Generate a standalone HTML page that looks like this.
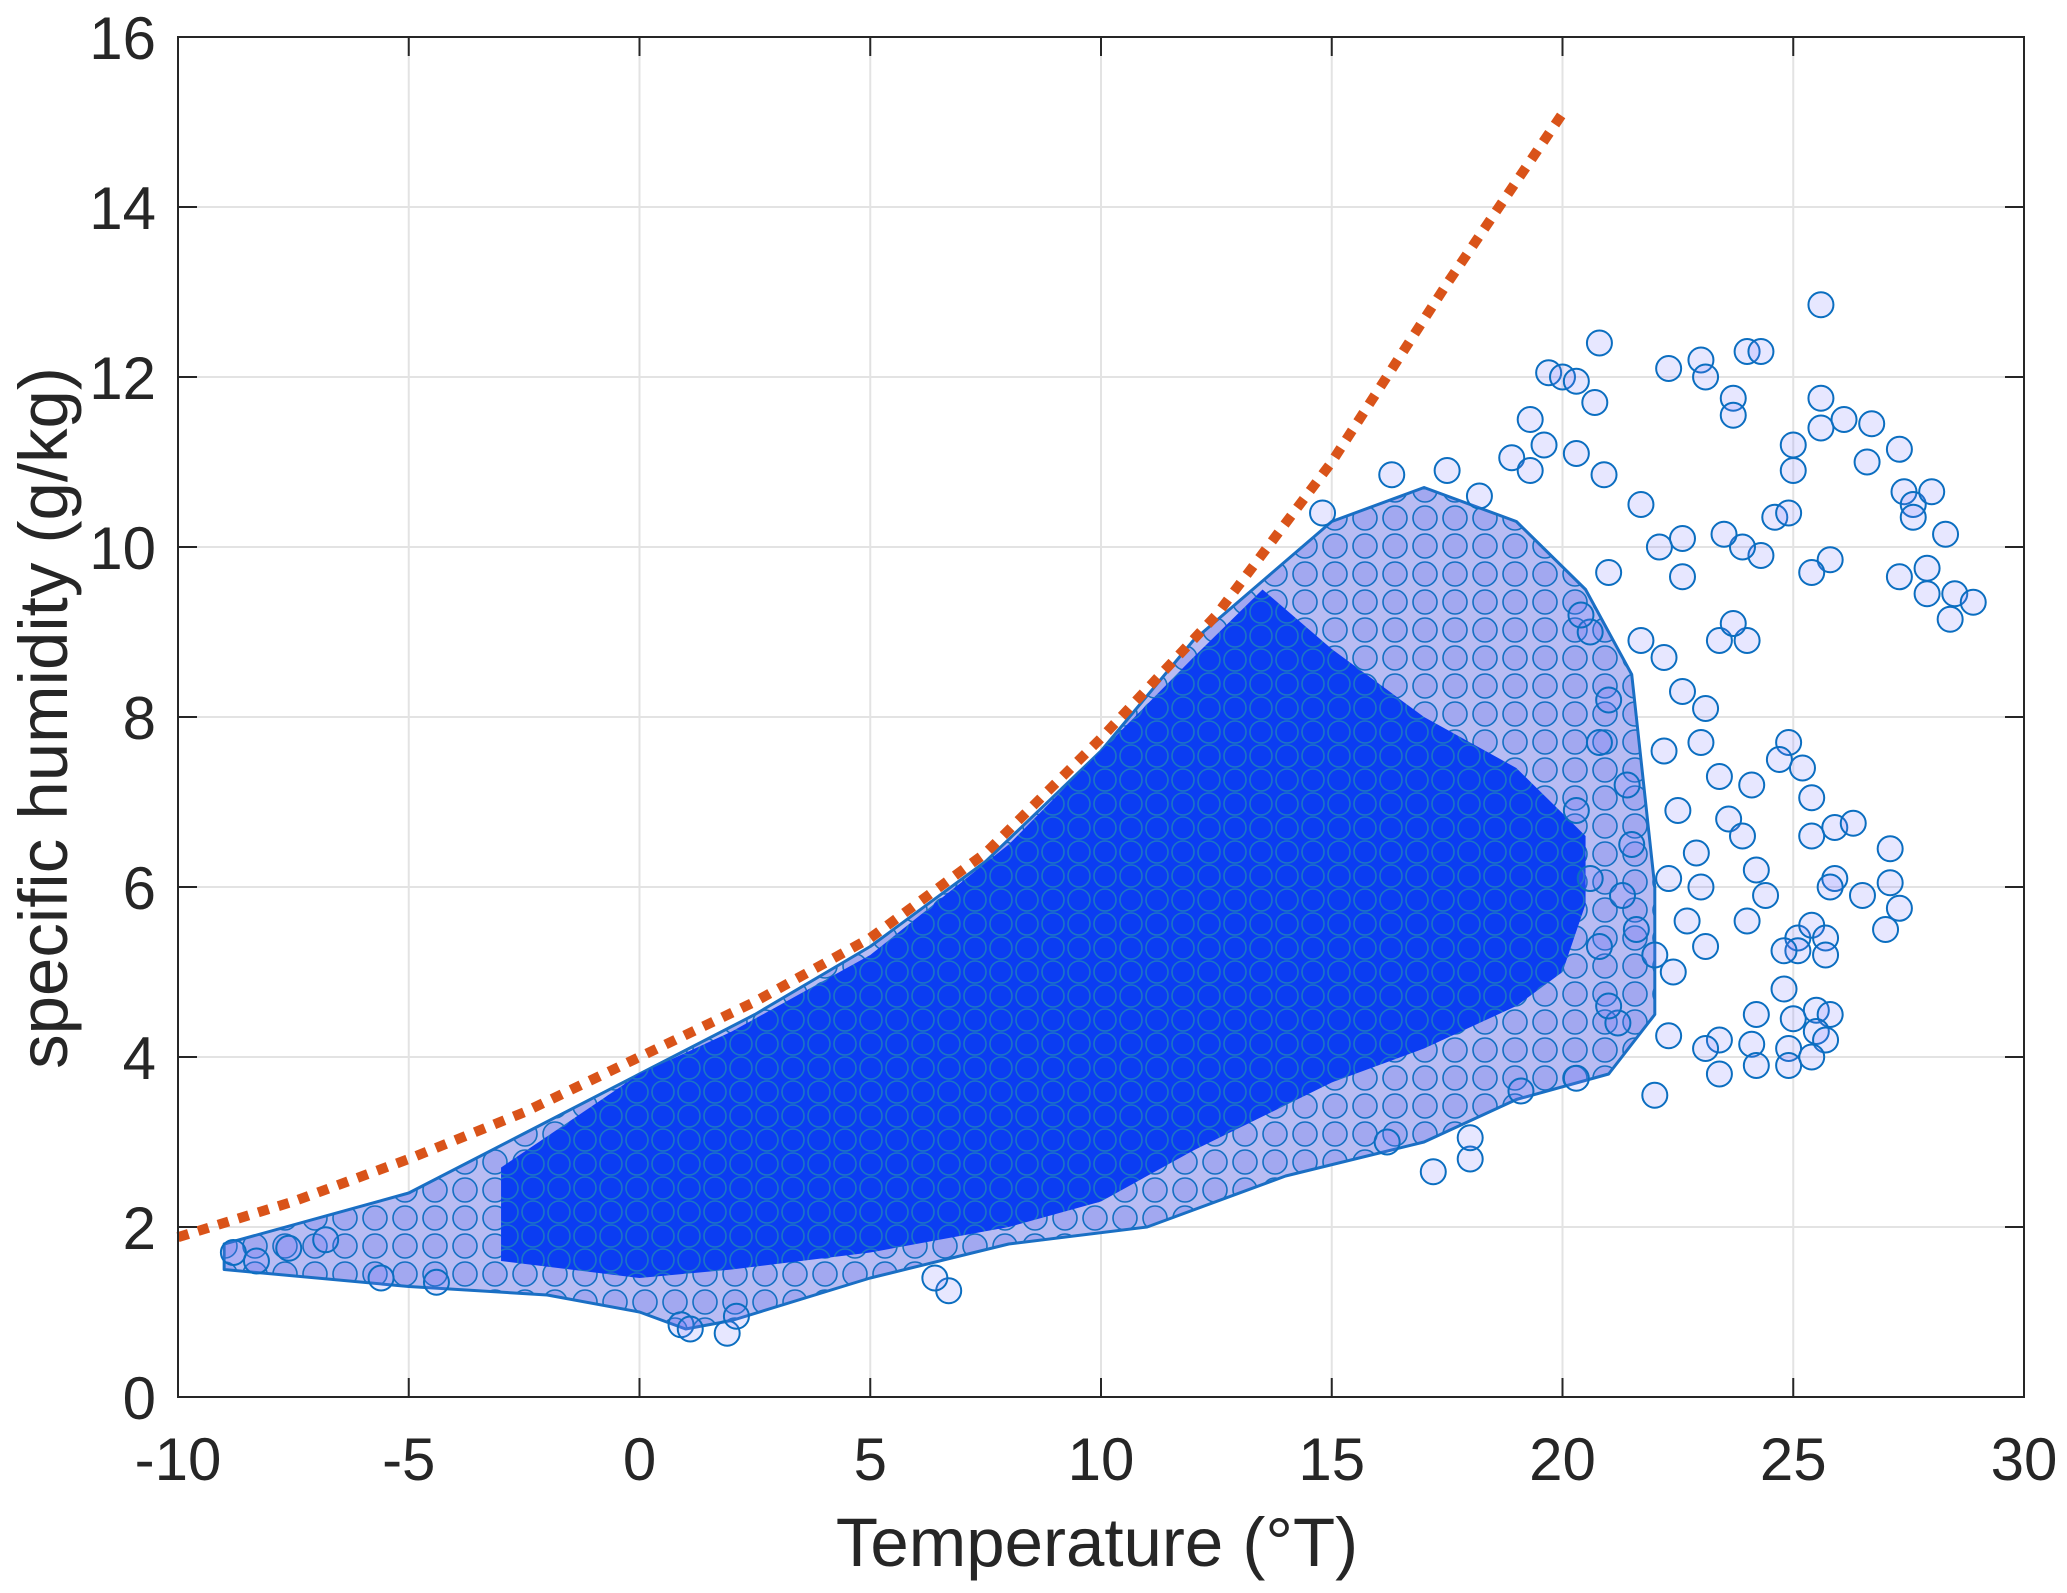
<!DOCTYPE html>
<html><head><meta charset="utf-8"><style>
html,body{margin:0;padding:0;background:#fff;}
svg{display:block;font-family:"Liberation Sans",Arial,sans-serif;}
</style></head><body>
<svg id="chart" width="2067" height="1593" viewBox="0 0 2067 1593">
<defs>
<pattern id="corePat" width="26" height="24" patternUnits="userSpaceOnUse">
<rect width="26" height="24" fill="#0b3df2"/>
<circle cx="13" cy="12" r="11" fill="none" stroke="#1c74c6" stroke-width="1.6"/>
</pattern>
<pattern id="haloPat" width="30" height="28" patternUnits="userSpaceOnUse">
<rect width="30" height="28" fill="#b8bcf3"/>
<circle cx="15" cy="14" r="12" fill="#a2a8f0" stroke="#1570c2" stroke-width="1.6"/>
</pattern>
</defs>
<g id="grid"></g>
<g id="halo"></g>
<g id="points"></g>
<g id="curve"></g>
<g id="axes"></g>
<text x="1097" y="1566" font-size="69" text-anchor="middle" fill="#262626">Temperature (°T)</text>
<text transform="translate(67,718) rotate(-90)" font-size="69" text-anchor="middle" fill="#262626">specific humidity (g/kg)</text>
</svg>
<script>
const xTicks=[-10,-5,0,5,10,15,20,25,30];
const yTicks=[0,2,4,6,8,10,12,14,16];
const curveT=[-10,-7.5,-5,-2.5,0,2.5,5,7.5,10,12.5,15,17.5,20];
const curveQ=[1.88,2.3,2.8,3.35,4.0,4.65,5.4,6.4,7.75,9.2,11.0,13.1,15.1];
const haloLowT=[-9,-5,-2,0,1,2,5,8,11,14,17,19,21,22];
const haloLowQ=[1.5,1.3,1.2,1.0,0.8,0.9,1.4,1.8,2.0,2.6,3.0,3.5,3.8,4.5];
const haloHighT=[22,21.5,20.5,19,17,15,13.5,12,10,7.5,5,2.5,0,-2.5,-5,-9];
const haloHighQ=[6,8.5,9.5,10.3,10.7,10.3,9.6,8.9,7.6,6.3,5.3,4.5,3.8,3.1,2.4,1.8];
const coreLowT=[-3,0,2,5,8,10,12,13.5,15,17,19,20,20.5];
const coreLowQ=[1.6,1.4,1.5,1.7,2.0,2.3,2.9,3.3,3.7,4.1,4.6,5.0,5.8];
const coreHighT=[20.5,19,17,15,13.5,12,10,8,5,2,0,-3];
const coreHighQ=[6.6,7.4,8.0,8.8,9.5,8.7,7.6,6.5,5.2,4.3,3.8,2.7];
const ptT=[20.8,19.7,20.0,20.3,22.3,23.0,23.1,24.0,24.3,25.6,25.6,25.6,26.1,26.7,27.3,26.6,25.0,25.0,23.7,23.7,27.4,27.6,28.0,27.6,28.3,25.8,25.4,27.3,27.9,28.5,28.9,28.4,27.9,24.6,24.9,24.3,23.9,23.5,22.6,22.1,22.6,19.3,19.6,18.9,19.3,20.7,20.3,20.9,21.7,24.9,24.7,25.2,25.4,25.9,26.3,25.4,27.1,25.9,25.8,27.1,26.5,27.3,27.0,25.1,25.4,25.1,25.7,25.7,24.8,24.8,25.0,25.5,25.8,25.5,25.7,24.9,25.4,24.9,24.2,24.1,24.2,23.4,23.4,22.3,22.0,23.1,20.3,19.1,17.2,18.0,18.0,16.2,24.0,24.4,24.2,23.6,23.4,24.1,23.0,22.6,23.1,23.4,24.0,23.7,22.2,21.7,22.2,22.5,22.9,21.5,21.6,22.0,22.4,23.1,22.7,21.2,21.0,21.4,21.0,20.6,21.0,20.4,20.8,20.3,20.6,20.8,21.3,22.3,23.0,23.9,16.3,17.5,18.2,14.8,-8.8,-8.3,-7.6,-6.8,-5.6,-4.4,0.9,1.1,1.9,2.1,6.7,6.4];
const ptQ=[12.4,12.05,12.0,11.95,12.1,12.2,12.0,12.3,12.3,12.85,11.75,11.4,11.5,11.45,11.15,11.0,11.2,10.9,11.75,11.55,10.65,10.5,10.65,10.35,10.15,9.85,9.7,9.65,9.75,9.45,9.35,9.15,9.45,10.35,10.4,9.9,10.0,10.15,10.1,10.0,9.65,11.5,11.2,11.05,10.9,11.7,11.1,10.85,10.5,7.7,7.5,7.4,7.05,6.7,6.75,6.6,6.45,6.1,6.0,6.05,5.9,5.75,5.5,5.4,5.55,5.25,5.4,5.2,5.25,4.8,4.45,4.55,4.5,4.3,4.2,4.1,4.0,3.9,4.5,4.15,3.9,4.2,3.8,4.25,3.55,4.1,3.75,3.6,2.65,2.8,3.05,3.0,5.6,5.9,6.2,6.8,7.3,7.2,7.7,8.3,8.1,8.9,8.9,9.1,8.7,8.9,7.6,6.9,6.4,6.5,5.5,5.2,5.0,5.3,5.6,4.4,4.6,7.2,8.2,9.0,9.7,9.2,7.7,6.9,6.1,5.3,5.9,6.1,6.0,6.6,10.85,10.9,10.6,10.4,1.7,1.6,1.75,1.85,1.4,1.35,0.85,0.8,0.75,0.95,1.25,1.4];

const X0=178,X1=2024,Y0=1397,Y1=37;
const sx=t=>X0+(t+10)/40*(X1-X0);
const sy=q=>Y0-q/16*(Y0-Y1);
const NS='http://www.w3.org/2000/svg';
function mk(tag,parent){const e=document.createElementNS(NS,tag);parent.appendChild(e);return e;}

const grid=document.getElementById('grid');
xTicks.forEach(t=>{const l=mk('line',grid);


l.setAttribute('x1',sx(t));l.setAttribute('x2',sx(t));l.setAttribute('y1',Y1);l.setAttribute('y2',Y0);l.setAttribute('stroke','#e3e3e3');l.setAttribute('stroke-width','2');});
yTicks.forEach(q=>{const l=mk('line',grid);


l.setAttribute('x1',X0);l.setAttribute('x2',X1);l.setAttribute('y1',sy(q));l.setAttribute('y2',sy(q));l.setAttribute('stroke','#e3e3e3');l.setAttribute('stroke-width','2');});

const halo=document.getElementById('halo');
function poly(lt,lq,ht,hq,fill,name,sw){
 const pts=[];lt.forEach((t,i)=>pts.push(sx(t)+','+sy(lq[i])));ht.forEach((t,i)=>pts.push(sx(t)+','+sy(hq[i])));
 const p=mk('polygon',halo);
 
 
 p.setAttribute('points',pts.join(' '));p.setAttribute('fill',fill);p.setAttribute('stroke','#1a6fc4');p.setAttribute('stroke-width',sw);p.setAttribute('stroke-linejoin','round');
}
poly(haloLowT,haloLowQ,haloHighT,haloHighQ,'url(#haloPat)','halo-region','3');
poly(coreLowT,coreLowQ,coreHighT,coreHighQ,'url(#corePat)','dense-core-region','0');

const pg=document.getElementById('points');
ptT.forEach((t,i)=>{const c=mk('circle',pg);


c.setAttribute('cx',sx(t));c.setAttribute('cy',sy(ptQ[i]));c.setAttribute('r','12.5');c.setAttribute('fill','rgba(120,120,255,0.18)');c.setAttribute('stroke','#0b6ec0');c.setAttribute('stroke-width','2');});

const cg=document.getElementById('curve');
const cp=mk('polyline',cg);


cp.setAttribute('points',curveT.map((t,i)=>sx(t)+','+sy(curveQ[i])).join(' '));
cp.setAttribute('fill','none');cp.setAttribute('stroke','#D95319');cp.setAttribute('stroke-width','10');cp.setAttribute('stroke-dasharray','11 10');

const ax=document.getElementById('axes');
const box=mk('rect',ax);


box.setAttribute('x',X0);box.setAttribute('y',Y1);box.setAttribute('width',X1-X0);box.setAttribute('height',Y0-Y1);box.setAttribute('fill','none');box.setAttribute('stroke','#262626');box.setAttribute('stroke-width','2');
xTicks.forEach(t=>{
 [[Y0,Y0-19],[Y1,Y1+19]].forEach(([a,b])=>{const l=mk('line',ax);
 
 
 l.setAttribute('x1',sx(t));l.setAttribute('x2',sx(t));l.setAttribute('y1',a);l.setAttribute('y2',b);l.setAttribute('stroke','#262626');l.setAttribute('stroke-width','2');});
 const tx=mk('text',ax);
 
 
 tx.setAttribute('x',sx(t));tx.setAttribute('y',Y0+83);tx.setAttribute('font-size','60');tx.setAttribute('text-anchor','middle');tx.setAttribute('fill','#262626');tx.textContent=t;
});
yTicks.forEach(q=>{
 [[X0,X0+19],[X1,X1-19]].forEach(([a,b])=>{const l=mk('line',ax);
 
 
 l.setAttribute('x1',a);l.setAttribute('x2',b);l.setAttribute('y1',sy(q));l.setAttribute('y2',sy(q));l.setAttribute('stroke','#262626');l.setAttribute('stroke-width','2');});
 const tx=mk('text',ax);
 
 
 tx.setAttribute('x',X0-22);tx.setAttribute('y',sy(q)+22);tx.setAttribute('font-size','60');tx.setAttribute('text-anchor','end');tx.setAttribute('fill','#262626');tx.textContent=q;
});
</script>
</body></html>
